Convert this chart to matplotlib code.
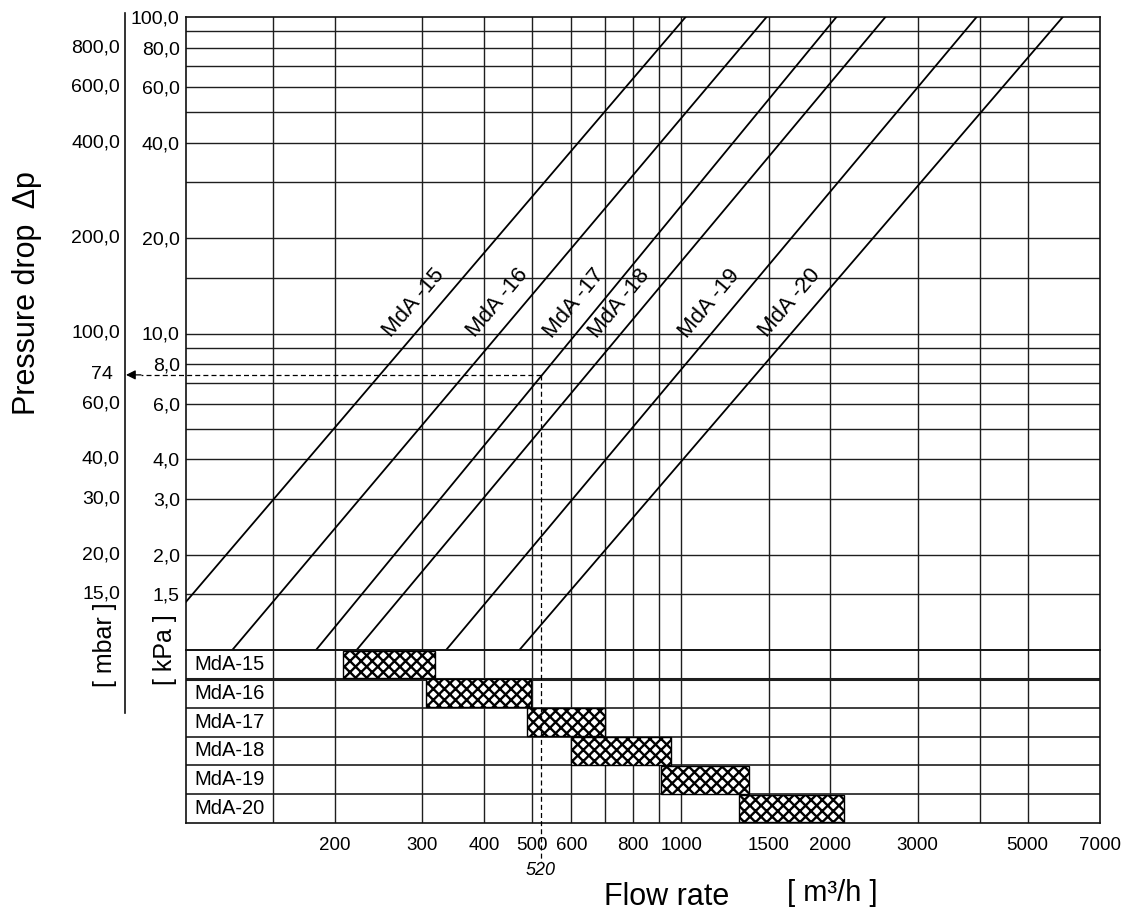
"""
Druckverlust-Diagramm MdA-15 ... MdA-20 (log-log) mit Einsatzbereichs-Tabelle
"""

import numpy as np
import matplotlib
matplotlib.use("Agg")
import matplotlib.pyplot as plt
from matplotlib.lines import Line2D
from matplotlib import transforms
from matplotlib.ticker import NullLocator

plt.rcParams["font.family"] = ["Liberation Sans", "DejaVu Sans"]
plt.rcParams["hatch.linewidth"] = 1.7

# --- Daten ---
MODELS = ["MdA-15", "MdA-16", "MdA-17", "MdA-18", "MdA-19", "MdA-20"]

# Kennlinien: Start- und Endpunkt (Durchfluss m3/h, Druckverlust kPa)
LINE_Q_START  = [100, 124, 183, 221, 335, 471]
LINE_DP_START = [1.42, 1.0, 1.0, 1.0, 1.0, 1.0]
LINE_Q_END    = [1020, 1486, 2056, 2582, 3945, 5888]
LINE_DP_END   = [100, 100, 100, 100, 100, 100]

# Einsatzbereiche (m3/h)
RANGE_MIN = [207, 305, 488, 600, 910, 1305]
RANGE_MAX = [318, 498, 700, 955, 1370, 2130]

GRID_FLOW = [150, 200, 300, 400, 500, 600, 700, 800, 900, 1000,
             1500, 2000, 3000, 4000, 5000]
GRID_KPA  = [1.5, 2, 3, 4, 5, 6, 7, 8, 9, 10, 15, 20, 30, 40, 50, 60, 70, 80, 90]

KPA_TICKS  = [100, 80, 60, 40, 20, 10, 8, 6, 4, 3, 2, 1.5]
KPA_LABELS = ["100,0", "80,0", "60,0", "40,0", "20,0", "10,0",
              "8,0", "6,0", "4,0", "3,0", "2,0", "1,5"]
MBAR_TICKS  = [800, 600, 400, 200, 100, 60, 40, 30, 20, 15]
MBAR_LABELS = ["800,0", "600,0", "400,0", "200,0", "100,0",
               "60,0", "40,0", "30,0", "20,0", "15,0"]
FLOW_TICKS = [200, 300, 400, 500, 600, 800, 1000, 1500, 2000, 3000, 5000, 7000]

EXAMPLE_Q  = 520   # m3/h
EXAMPLE_DP = 7.4   # kPa (= 74 mbar)
LABEL_DP   = 11.3  # Höhe der Kennlinien-Beschriftung

GRID_C = "#1e1e1e"
W, H = 1135, 918


def box(x0, y0, x1, y1):
    # Pixel (oben links) -> Figure-Koordinaten
    return [x0 / W, 1 - y1 / H, (x1 - x0) / W, (y1 - y0) / H]


fig = plt.figure(figsize=(W / 100, H / 100), dpi=100)
ax  = fig.add_axes(box(186, 17, 1100, 650))
axt = fig.add_axes(box(186, 650, 1100, 823))

# --- Hauptdiagramm ---
ax.set_xscale("log")
ax.set_yscale("log")
ax.set_xlim(100, 7000)
ax.set_ylim(1, 100)
for a in (ax, axt):
    a.xaxis.set_minor_locator(NullLocator())
    a.yaxis.set_minor_locator(NullLocator())
    a.tick_params(length=0)
    for s in a.spines.values():
        s.set_linewidth(1.2)
        s.set_color("#111111")

ax.set_xticks([])
ax.set_yticks(KPA_TICKS, KPA_LABELS, fontsize=14)
ax.tick_params(axis="y", pad=4.5)

for q in GRID_FLOW:
    ax.axvline(q, color=GRID_C, lw=1.0, zorder=1)
    axt.axvline(q, color=GRID_C, lw=1.0, zorder=1)
for dp in GRID_KPA:
    ax.axhline(dp, color=GRID_C, lw=1.0, zorder=1)

for i, name in enumerate(MODELS):
    q0, q1 = LINE_Q_START[i], LINE_Q_END[i]
    d0, d1 = LINE_DP_START[i], LINE_DP_END[i]
    ax.plot([q0, q1], [d0, d1], color="black", lw=1.3, zorder=3)

    # Position der Beschriftung auf der Linie (log-Interpolation)
    t = (np.log10(LABEL_DP) - np.log10(d0)) / (np.log10(d1) - np.log10(d0))
    q_lab = 10 ** (np.log10(q0) + t * (np.log10(q1) - np.log10(q0)))
    p0 = ax.transData.transform((q0, d0))
    p1 = ax.transData.transform((q1, d1))
    ang = np.arctan2(p1[1] - p0[1], p1[0] - p0[0])
    off = 21
    ax.annotate(name.replace("-", " -"), xy=(q_lab, LABEL_DP),
                xytext=(-np.sin(ang) * off, np.cos(ang) * off),
                textcoords="offset pixels", rotation=np.degrees(ang),
                rotation_mode="anchor", ha="center", va="center",
                fontsize=16, zorder=4)

# Ablesebeispiel 520 m3/h -> 7,4 kPa
dash = (0, (4, 2.5))
inv = ax.transData.inverted()
x_tip = inv.transform((126, 0))[0]
x_head = inv.transform((141, 0))[0]
ax.plot([EXAMPLE_Q, EXAMPLE_Q], [EXAMPLE_DP, 1], color="black", lw=0.9, ls=dash, zorder=2)
ax.plot([EXAMPLE_Q, x_head], [EXAMPLE_DP, EXAMPLE_DP], color="black", lw=0.9,
        ls=dash, clip_on=False, zorder=2)
ax.annotate("", xy=(x_tip, EXAMPLE_DP), xytext=(x_head, EXAMPLE_DP),
            arrowprops=dict(arrowstyle="-|>", color="black", lw=0.9,
                            mutation_scale=14, shrinkA=0, shrinkB=0),
            annotation_clip=False)

# mbar-Skala
fig.add_artist(Line2D([125 / W, 125 / W], [1 - 13 / H, 1 - 713 / H],
                      color="#111111", lw=1.2))
trans_mbar = transforms.blended_transform_factory(fig.transFigure, ax.transData)
for m, lab in zip(MBAR_TICKS, MBAR_LABELS):
    ax.text(120 / W, m / 10, lab, transform=trans_mbar, ha="right", va="center",
            fontsize=14)
ax.text(113 / W, EXAMPLE_DP, "74", transform=trans_mbar, ha="right",
        va="center", fontsize=14)

# --- Tabelle Einsatzbereiche ---
axt.set_xscale("log")
axt.set_xlim(100, 7000)
axt.set_ylim(0, len(MODELS))
axt.patch.set_visible(False)
axt.set_yticks([])
axt.set_xticks(FLOW_TICKS, [str(v) for v in FLOW_TICKS], fontsize=13.5)
axt.xaxis.set_minor_locator(NullLocator())
axt.tick_params(axis="x", pad=10)

n = len(MODELS)
for k in range(1, n):
    axt.axhline(k, color=GRID_C, lw=2.2 if k == n - 1 else 1.2, zorder=2)

x_name = np.sqrt(100 * GRID_FLOW[0])
for i, name in enumerate(MODELS):
    y = n - 1 - i
    axt.text(x_name, y + 0.5, name, ha="center", va="center", fontsize=14.5)
    axt.barh(y + 0.5, RANGE_MAX[i] - RANGE_MIN[i], left=RANGE_MIN[i], height=0.96,
             color="white", edgecolor="black", hatch="xxx", lw=1.0, zorder=3)

axt.plot([EXAMPLE_Q, EXAMPLE_Q], [n, -1.35], color="black", lw=0.9, ls=dash,
         clip_on=False, zorder=4)
axt.text(EXAMPLE_Q, -1.65, "520", ha="center", va="center", fontsize=13,
         style="italic")

# --- Achsentitel ---
fig.text(27 / W, 1 - 293 / H, "Pressure drop  Δp", rotation=90,
         ha="center", va="center", fontsize=22)
fig.text(105 / W, 1 - 645 / H, "[ mbar ]", rotation=90,
         ha="center", va="center", fontsize=18)
fig.text(165 / W, 1 - 650 / H, "[ kPa ]", rotation=90,
         ha="center", va="center", fontsize=18)
fig.text(667 / W, 1 - 897 / H, "Flow rate", ha="center", va="center", fontsize=22)
fig.text(832 / W, 1 - 893 / H, "[ m³/h ]", ha="center", va="center", fontsize=21)

fig.savefig("out.png", dpi=100)
